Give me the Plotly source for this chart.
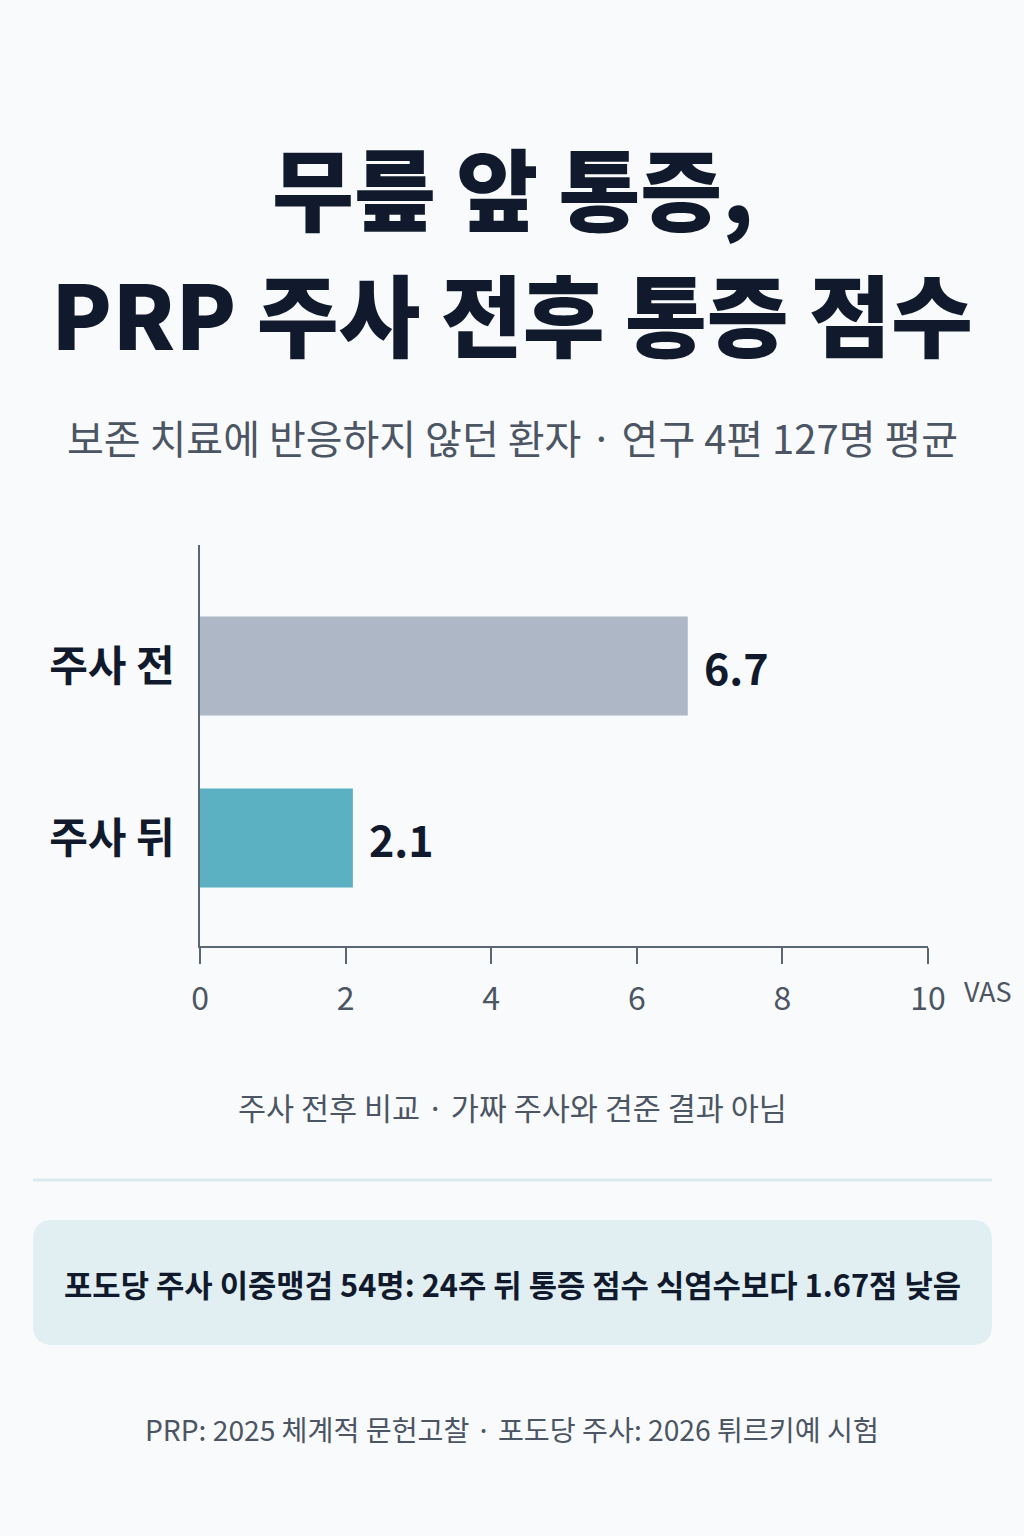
import plotly.graph_objects as go

categories = ["주사 뒤", "주사 전"]
values = [2.1, 6.7]
bar_colors = ["#5bb0c1", "#adb7c5"]
x_ticks = [0, 2, 4, 6, 8, 10]

title_line1 = "무릎 앞 통증,"
title_line2 = "PRP 주사 전후 통증 점수"
subtitle = "보존 치료에 반응하지 않던 환자 · 연구 4편 127명 평균"
caption = "주사 전후 비교 · 가짜 주사와 견준 결과 아님"
callout = "포도당 주사 이중맹검 54명: 24주 뒤 통증 점수 식염수보다 1.67점 낮음"
footer = "PRP: 2025 체계적 문헌고찰 · 포도당 주사: 2026 튀르키예 시험"

W, H = 1024, 1536
FONT = "Noto Sans CJK KR"
DARK = "#111a2d"
GREY = "#4b5563"


def px(x):
    return x / W


def py(y):
    return 1 - y / H


fig = go.Figure()
fig.add_trace(go.Bar(
    x=values, y=categories, orientation="h",
    marker=dict(color=bar_colors, line=dict(width=0)),
    width=0.575, hoverinfo="skip", showlegend=False,
))

annotations = []
for c, v in zip(categories, values):
    annotations.append(dict(
        x=v, y=c, xref="x", yref="y", text=f"<b>{v:.1f}</b>", showarrow=False,
        xanchor="left", yanchor="middle", xshift=14,
        font=dict(family=FONT, size=43, color=DARK),
    ))

annotations += [
    dict(x=0.5, y=py(185), xref="paper", yref="paper", text=title_line1,
         showarrow=False, xanchor="center", yanchor="middle",
         font=dict(family=FONT, size=89, color=DARK, weight=900)),
    dict(x=0.5, y=py(311), xref="paper", yref="paper", text=title_line2,
         showarrow=False, xanchor="center", yanchor="middle",
         font=dict(family=FONT, size=89, color=DARK, weight=900)),
    dict(x=0.5, y=py(437), xref="paper", yref="paper", text=subtitle,
         showarrow=False, xanchor="center", yanchor="middle",
         font=dict(family=FONT, size=40, color=GREY)),
    dict(x=px(962), y=py(990), xref="paper", yref="paper", text="VAS",
         showarrow=False, xanchor="left", yanchor="middle",
         font=dict(family=FONT, size=27, color=GREY)),
    dict(x=0.5, y=py(1107), xref="paper", yref="paper", text=caption,
         showarrow=False, xanchor="center", yanchor="middle",
         font=dict(family=FONT, size=30.5, color=GREY)),
    dict(x=0.5, y=py(1283), xref="paper", yref="paper", text=f"<b>{callout}</b>",
         showarrow=False, xanchor="center", yanchor="middle",
         font=dict(family=FONT, size=30.8, color=DARK)),
    dict(x=0.5, y=py(1428), xref="paper", yref="paper", text=footer,
         showarrow=False, xanchor="center", yanchor="middle",
         font=dict(family=FONT, size=28.2, color=GREY)),
]

# rounded callout box
x0, x1, y0, y1, r = 33, 992, 1220, 1345, 20
path = (
    f"M {px(x0 + r)},{py(y0)} L {px(x1 - r)},{py(y0)} "
    f"Q {px(x1)},{py(y0)} {px(x1)},{py(y0 + r)} L {px(x1)},{py(y1 - r)} "
    f"Q {px(x1)},{py(y1)} {px(x1 - r)},{py(y1)} L {px(x0 + r)},{py(y1)} "
    f"Q {px(x0)},{py(y1)} {px(x0)},{py(y1 - r)} L {px(x0)},{py(y0 + r)} "
    f"Q {px(x0)},{py(y0)} {px(x0 + r)},{py(y0)} Z"
)
shapes = [
    dict(type="path", path=path, xref="paper", yref="paper",
         fillcolor="#e1eff2", line=dict(width=0), layer="below"),
    dict(type="line", xref="paper", yref="paper", x0=px(33), x1=px(992),
         y0=py(1180), y1=py(1180), line=dict(color="#dce9ee", width=3)),
]

fig.update_layout(
    width=W, height=H, autosize=False,
    margin=dict(l=0, r=0, t=0, b=0, autoexpand=False),
    paper_bgcolor="#f8fafb", plot_bgcolor="rgba(0,0,0,0)",
    font=dict(family=FONT),
    xaxis=dict(
        domain=[px(200), px(928)], range=[0, 10], tickvals=x_ticks,
        showgrid=False, zeroline=False, showline=True, linecolor="#5c6673", linewidth=2,
        ticks="outside", ticklen=16, tickwidth=2, tickcolor="#5c6673",
        tickfont=dict(family=FONT, size=32, color=GREY), ticklabelstandoff=8,
        anchor="y", fixedrange=True, automargin=False,
    ),
    yaxis=dict(
        domain=[py(946), py(545)], type="category", categoryorder="array",
        categoryarray=categories, range=[-0.628, 1.703],
        showgrid=False, zeroline=False, showline=True, linecolor="#5c6673", linewidth=2,
        ticks="", tickfont=dict(family=FONT, size=42, color=DARK, weight="bold"),
        ticklabelstandoff=15, anchor="x", fixedrange=True, automargin=False,
    ),
    annotations=annotations,
    shapes=shapes,
)

fig.write_html(
    "out.html",
    config={"responsive": False, "displayModeBar": False},
    post_script="document.body.style.margin='0';document.body.style.overflow='hidden';",
)
